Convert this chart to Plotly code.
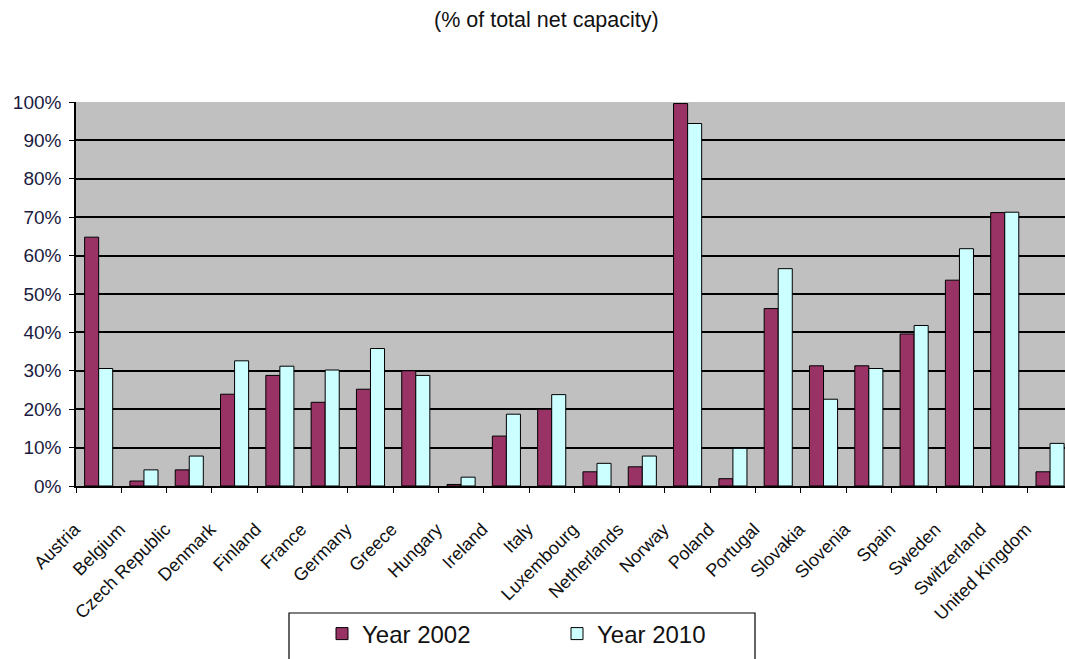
import plotly.graph_objects as go

countries = ["Austria", "Belgium", "Czech Republic", "Denmark", "Finland", "France",
             "Germany", "Greece", "Hungary", "Ireland", "Italy", "Luxembourg",
             "Netherlands", "Norway", "Poland", "Portugal", "Slovakia", "Slovenia",
             "Spain", "Sweden", "Switzerland", "United Kingdom"]

year_2002 = [64.8, 1.3, 4.2, 23.9, 28.8, 21.8, 25.2, 30.0, 0.4, 13.0, 20.0, 3.7,
             5.0, 99.6, 1.9, 46.2, 31.3, 31.3, 39.6, 53.6, 71.2, 3.7]
year_2010 = [30.6, 4.2, 7.8, 32.6, 31.2, 30.2, 35.8, 28.8, 2.3, 18.7, 23.8, 5.9,
             7.8, 94.4, 9.8, 56.6, 22.6, 30.6, 41.8, 61.8, 71.3, 11.1]

y_ticks = [0, 10, 20, 30, 40, 50, 60, 70, 80, 90, 100]
y_labels = [f"{v}%" for v in y_ticks]

W, H = 1065, 659
ML, MR, MT, MB = 76, 0, 102, 173

fig = go.Figure()
fig.add_trace(go.Bar(x=countries, y=year_2002, name="Year 2002",
                     marker=dict(color="#993366", line=dict(color="#000000", width=1))))
fig.add_trace(go.Bar(x=countries, y=year_2010, name="Year 2010",
                     marker=dict(color="#CCFFFF", line=dict(color="#000000", width=1))))

# legend frame (runs past the bottom edge of the page)
pw = W - ML - MR
ph = H - MT - MB
def px_x(px):
    return (px - ML) / pw
def px_y(py):
    return (H - MB - py) / ph

fig.add_shape(type="rect", xref="paper", yref="paper",
              x0=px_x(289), x1=px_x(755), y0=px_y(700), y1=px_y(613),
              line=dict(color="#000000", width=1.2), fillcolor="rgba(0,0,0,0)",
              layer="above")

fig.update_layout(
    width=W, height=H,
    margin=dict(l=ML, r=MR, t=MT, b=MB, pad=0, autoexpand=False),
    paper_bgcolor="#FFFFFF",
    plot_bgcolor="#C0C0C0",
    barmode="group",
    bargap=0.38,
    bargroupgap=0,
    font=dict(family="Arial, Liberation Sans, sans-serif", color="#000000"),
    showlegend=True,
    legend=dict(orientation="h", xref="container", yref="container",
                x=322 / W, y=1 - 634 / H, xanchor="left", yanchor="middle",
                font=dict(size=24, color="#111111"),
                bgcolor="rgba(0,0,0,0)", borderwidth=0,
                entrywidth=190, itemwidth=30, tracegroupgap=0),
    annotations=[dict(text="(% of total net capacity)", xref="paper", yref="paper",
                      x=px_x(546), y=px_y(20), showarrow=False,
                      xanchor="center", yanchor="middle",
                      font=dict(size=21.5, color="#111111"))],
)

fig.update_xaxes(
    type="category",
    range=[-0.5, 21.33],
    automargin=False,
    tickangle=-45,
    tickson="boundaries",
    ticks="outside", ticklen=5, tickcolor="#000000", tickwidth=1,
    showline=True, linecolor="#000000", linewidth=1.5,
    showgrid=False,
    tickfont=dict(size=18, color="#111111"),
    ticklabelstandoff=24,
    ticklabelshift=-24,
)

fig.update_yaxes(
    range=[0, 100],
    automargin=False,
    tickvals=y_ticks, ticktext=y_labels,
    ticks="outside", ticklen=5, tickcolor="#000000", tickwidth=1,
    showline=True, linecolor="#000000", linewidth=1.5,
    showgrid=True, gridcolor="#000000", gridwidth=1.5,
    zeroline=False,
    tickfont=dict(size=19, color="#1a1a40"),
    ticklabelstandoff=4,
)

fig.write_html("out.html")
